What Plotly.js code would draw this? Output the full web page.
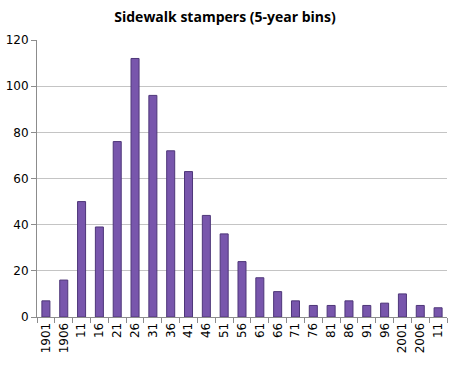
<!DOCTYPE html>
<html><head><meta charset="utf-8">
<script src="https://cdn.plot.ly/plotly-3.0.1.min.js"></script>
<style>body{margin:0;background:#fff}#c{width:450px;height:376px}</style>
</head><body><div id="c"></div>
<script>
const labels = ["1901","1906","11","16","21","26","31","36","41","46","51","56","61","66","71","76","81","86","91","96","2001","2006","11"];
const counts = [7,16,50,39,76,112,96,72,63,44,36,24,17,11,7,5,5,7,5,6,10,5,4];
const yTicks = [0,20,40,60,80,100,120];

const idx = labels.map((_, i) => i);
Plotly.newPlot('c', [{
  type: 'bar', x: idx, y: counts,
  marker: {color: '#7856AC', line: {color: '#4E3679', width: 1}},
  hoverinfo: 'skip'
}], {
  width: 450, height: 376,
  margin: {l: 37, r: 3, t: 40, b: 59},
  paper_bgcolor: '#fff', plot_bgcolor: '#fff',
  bargap: 0.55,
  showlegend: false,
  title: {text: '<b>Sidewalk stampers (5-year bins)</b>', x: 0.5, xanchor: 'center', y: 0.955, yanchor: 'middle',
          font: {family: 'Open Sans, sans-serif', size: 14, color: '#000'}},
  xaxis: {
    range: [-0.5, labels.length - 0.5], tickmode: 'array', tickvals: idx, ticktext: labels,
    tickangle: -90, ticks: '', showgrid: false, zeroline: false,
    showline: true, linecolor: '#8C8C8C', linewidth: 1,
    tickfont: {family: 'DejaVu Sans, sans-serif', size: 12, color: '#000'},
    minor: {tickmode: 'linear', tick0: -0.5, dtick: 1, ticks: 'outside', ticklen: 5, tickcolor: '#8C8C8C', showgrid: false}
  },
  yaxis: {
    range: [0, 120], tickmode: 'array', tickvals: yTicks, ticks: 'outside', ticklen: 5, tickcolor: '#8C8C8C',
    showgrid: true, gridcolor: '#C4C4C4', zeroline: false,
    showline: true, linecolor: '#8C8C8C', linewidth: 1,
    tickfont: {family: 'DejaVu Sans, sans-serif', size: 12, color: '#000'}
  }
}, {staticPlot: true});
</script></body></html>
